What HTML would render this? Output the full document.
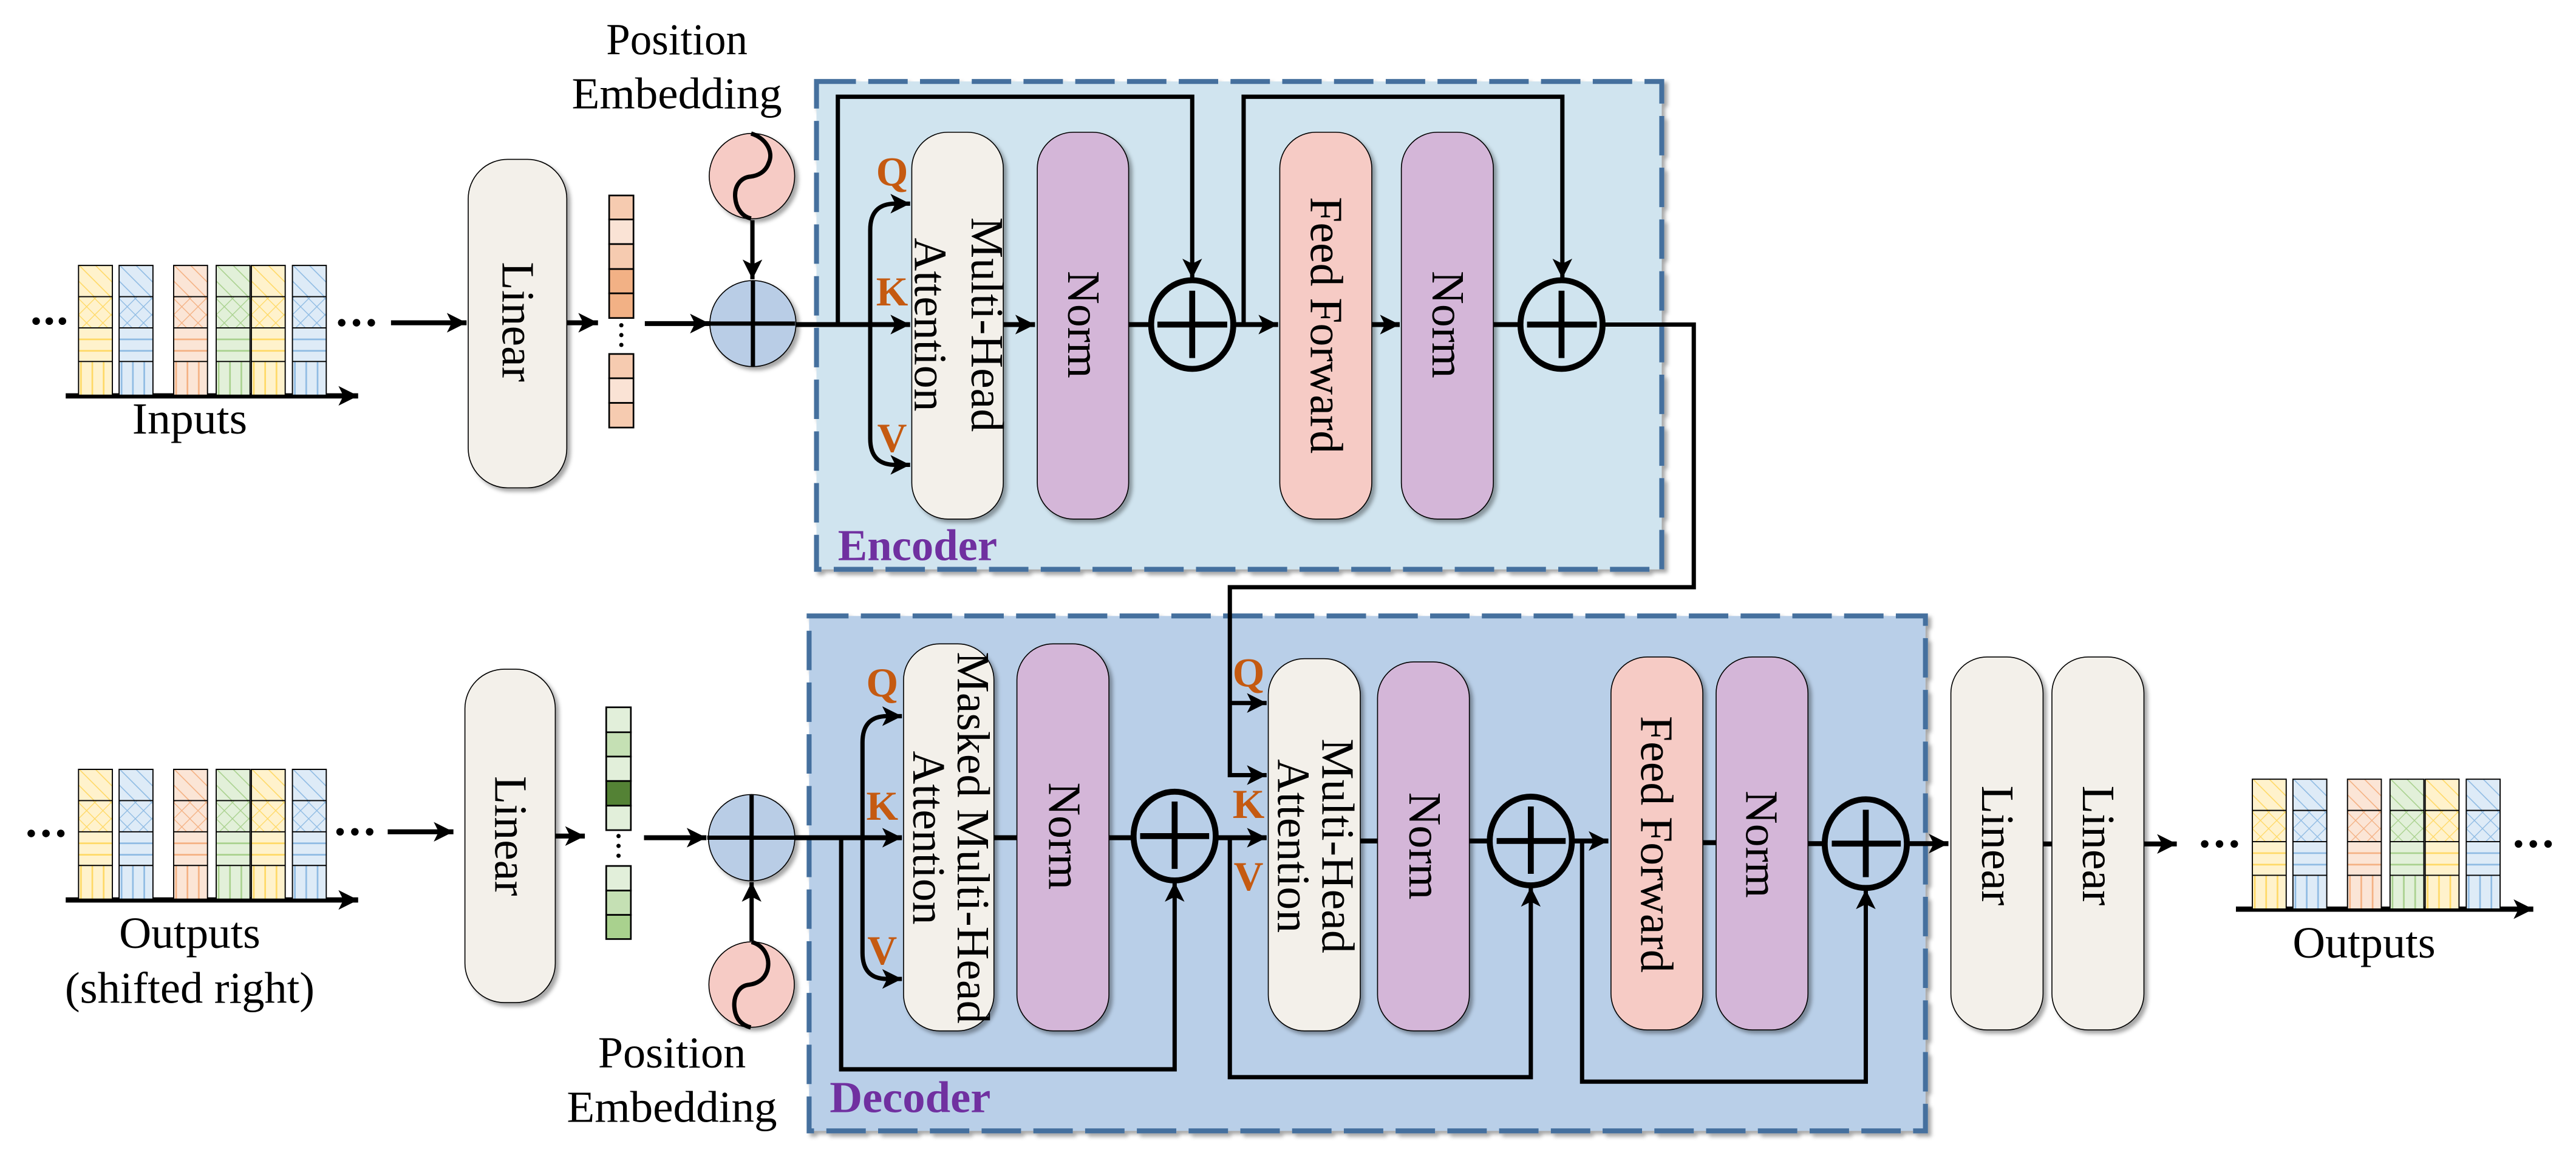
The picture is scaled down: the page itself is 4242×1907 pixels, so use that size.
<!DOCTYPE html>
<html><head><meta charset="utf-8"><style>
html,body{margin:0;padding:0;background:#fff;}
svg{display:block;}
text{font-family:"Liberation Serif","Times New Roman",Times,"DejaVu Serif",serif;}
</style></head><body>
<svg width="4242" height="1907" viewBox="0 0 1568 705" preserveAspectRatio="none" xmlns="http://www.w3.org/2000/svg" font-family="'Liberation Serif', 'Times New Roman', Times, serif">
<defs>
<marker id="ar" markerUnits="userSpaceOnUse" markerWidth="14" markerHeight="14" refX="12" refY="6" orient="auto">
<path d="M0,0 L12,6 L0,12 L3,6 z" fill="#000"/>
</marker>
<filter id="sh" x="-20%" y="-20%" width="150%" height="150%">
<feDropShadow dx="2" dy="2" stdDeviation="1.2" flood-color="#000" flood-opacity="0.35"/>
</filter>
<pattern id="dY" width="7" height="7" patternUnits="userSpaceOnUse" patternTransform="rotate(-45)"><rect width="7" height="7" fill="#fff2cc"/><line x1="0" y1="0" x2="0" y2="7" stroke="#ffd966" stroke-width="1.2"/></pattern>
<pattern id="dB" width="7" height="7" patternUnits="userSpaceOnUse" patternTransform="rotate(-45)"><rect width="7" height="7" fill="#deebf7"/><line x1="0" y1="0" x2="0" y2="7" stroke="#8fbbe3" stroke-width="1.2"/></pattern>
<pattern id="dO" width="7" height="7" patternUnits="userSpaceOnUse" patternTransform="rotate(-45)"><rect width="7" height="7" fill="#fbe5d6"/><line x1="0" y1="0" x2="0" y2="7" stroke="#f4b183" stroke-width="1.2"/></pattern>
<pattern id="dG" width="7" height="7" patternUnits="userSpaceOnUse" patternTransform="rotate(-45)"><rect width="7" height="7" fill="#e2f0d9"/><line x1="0" y1="0" x2="0" y2="7" stroke="#a9d18e" stroke-width="1.2"/></pattern>
<pattern id="cY" width="7" height="7" patternUnits="userSpaceOnUse" patternTransform="rotate(45)"><rect width="7" height="7" fill="#fff2cc"/><path d="M0,0V7M0,0H7" stroke="#ffd966" stroke-width="1"/></pattern>
<pattern id="cB" width="7" height="7" patternUnits="userSpaceOnUse" patternTransform="rotate(45)"><rect width="7" height="7" fill="#deebf7"/><path d="M0,0V7M0,0H7" stroke="#8fbbe3" stroke-width="1"/></pattern>
<pattern id="cO" width="7" height="7" patternUnits="userSpaceOnUse" patternTransform="rotate(45)"><rect width="7" height="7" fill="#fbe5d6"/><path d="M0,0V7M0,0H7" stroke="#f4b183" stroke-width="1"/></pattern>
<pattern id="cG" width="7" height="7" patternUnits="userSpaceOnUse" patternTransform="rotate(45)"><rect width="7" height="7" fill="#e2f0d9"/><path d="M0,0V7M0,0H7" stroke="#a9d18e" stroke-width="1"/></pattern>
<pattern id="vY" width="6.9" height="10" patternUnits="userSpaceOnUse"><rect width="6.9" height="10" fill="#fff2cc"/><line x1="1.5" y1="0" x2="1.5" y2="10" stroke="#ffd966" stroke-width="1"/></pattern>
<pattern id="vB" width="6.9" height="10" patternUnits="userSpaceOnUse"><rect width="6.9" height="10" fill="#deebf7"/><line x1="1.5" y1="0" x2="1.5" y2="10" stroke="#8fbbe3" stroke-width="1"/></pattern>
<pattern id="vO" width="6.9" height="10" patternUnits="userSpaceOnUse"><rect width="6.9" height="10" fill="#fbe5d6"/><line x1="1.5" y1="0" x2="1.5" y2="10" stroke="#f4b183" stroke-width="1"/></pattern>
<pattern id="vG" width="6.9" height="10" patternUnits="userSpaceOnUse"><rect width="6.9" height="10" fill="#e2f0d9"/><line x1="1.5" y1="0" x2="1.5" y2="10" stroke="#a9d18e" stroke-width="1"/></pattern>
<g id="colY"><rect x="0" y="0" width="20.6" height="19" fill="url(#dY)"/><rect x="0" y="19" width="20.6" height="19" fill="url(#cY)"/><rect x="0" y="38" width="20.6" height="20.5" fill="#fff2cc"/><path d="M0,45H20.6M0,52H20.6" stroke="#ffd966" stroke-width="1"/><rect x="0" y="58.5" width="20.6" height="20.5" fill="url(#vY)"/><path d="M0,0H20.6V79H0z M0,19H20.6 M0,38H20.6 M0,58.5H20.6" fill="none" stroke="#000" stroke-width="0.7"/></g>
<g id="colB"><rect x="0" y="0" width="20.6" height="19" fill="url(#dB)"/><rect x="0" y="19" width="20.6" height="19" fill="url(#cB)"/><rect x="0" y="38" width="20.6" height="20.5" fill="#deebf7"/><path d="M0,45H20.6M0,52H20.6" stroke="#8fbbe3" stroke-width="1"/><rect x="0" y="58.5" width="20.6" height="20.5" fill="url(#vB)"/><path d="M0,0H20.6V79H0z M0,19H20.6 M0,38H20.6 M0,58.5H20.6" fill="none" stroke="#000" stroke-width="0.7"/></g>
<g id="colO"><rect x="0" y="0" width="20.6" height="19" fill="url(#dO)"/><rect x="0" y="19" width="20.6" height="19" fill="url(#cO)"/><rect x="0" y="38" width="20.6" height="20.5" fill="#fbe5d6"/><path d="M0,45H20.6M0,52H20.6" stroke="#f4b183" stroke-width="1"/><rect x="0" y="58.5" width="20.6" height="20.5" fill="url(#vO)"/><path d="M0,0H20.6V79H0z M0,19H20.6 M0,38H20.6 M0,58.5H20.6" fill="none" stroke="#000" stroke-width="0.7"/></g>
<g id="colG"><rect x="0" y="0" width="20.6" height="19" fill="url(#dG)"/><rect x="0" y="19" width="20.6" height="19" fill="url(#cG)"/><rect x="0" y="38" width="20.6" height="20.5" fill="#e2f0d9"/><path d="M0,45H20.6M0,52H20.6" stroke="#a9d18e" stroke-width="1"/><rect x="0" y="58.5" width="20.6" height="20.5" fill="url(#vG)"/><path d="M0,0H20.6V79H0z M0,19H20.6 M0,38H20.6 M0,58.5H20.6" fill="none" stroke="#000" stroke-width="0.7"/></g>
<g id="seq"><use href="#colY" x="0"/><use href="#colB" x="24.7"/><use href="#colO" x="57.9"/><use href="#colG" x="83.8"/><use href="#colY" x="105.2"/><use href="#colB" x="130.2"/></g>
</defs>

<rect x="497" y="49.6" width="514.5" height="297" fill="#d0e4ef" stroke="#44709e" stroke-width="3" stroke-dasharray="24 7.5" filter="url(#sh)"/>
<rect x="492.5" y="375" width="679.5" height="313.5" fill="#b9cfe8" stroke="#44709e" stroke-width="3" stroke-dasharray="24 7.5" filter="url(#sh)"/>

<g fill="none" stroke="#000" stroke-width="2.6" stroke-linejoin="miter">
<line x1="40" y1="241" x2="218" y2="241" stroke-width="3.2" marker-end="url(#ar)"/>
<line x1="238" y1="196.5" x2="284" y2="196.5" stroke-width="3" marker-end="url(#ar)"/>
<line x1="345" y1="196.5" x2="364" y2="196.5" stroke-width="3" marker-end="url(#ar)"/>
<line x1="392.5" y1="197" x2="432" y2="197" stroke-width="3" marker-end="url(#ar)"/>
<line x1="458" y1="134" x2="458" y2="170" stroke-width="2.6" marker-end="url(#ar)"/>
<line x1="484" y1="197.6" x2="554" y2="197.6" stroke-width="3" marker-end="url(#ar)"/>
<path d="M529.7,197.6 V140 Q529.7,124 545,124 H554" marker-end="url(#ar)"/>
<path d="M529.7,197.6 V267 Q529.7,283 545,283 H554" marker-end="url(#ar)"/>
<path d="M510,197.6 V58.9 H725.7 V169.5" marker-end="url(#ar)"/>
<line x1="611" y1="197.6" x2="630" y2="197.6" stroke-width="3" marker-end="url(#ar)"/>
<line x1="687" y1="197.6" x2="700" y2="197.6" stroke-width="3"/>
<line x1="752" y1="197.6" x2="778" y2="197.6" stroke-width="3" marker-end="url(#ar)"/>
<path d="M757,197.6 V58.9 H951 V169.5" marker-end="url(#ar)"/>
<line x1="835" y1="197.6" x2="852" y2="197.6" stroke-width="3" marker-end="url(#ar)"/>
<line x1="909" y1="197.6" x2="924" y2="197.6" stroke-width="3"/>
<path d="M977,197.6 H1031 V357.5 H748.6 V471.9 H771" marker-end="url(#ar)"/>
<path d="M748.6,428 H771" marker-end="url(#ar)"/>

<line x1="40" y1="547.9" x2="218" y2="547.9" stroke-width="3.2" marker-end="url(#ar)"/>
<line x1="236" y1="506.4" x2="276" y2="506.4" stroke-width="3" marker-end="url(#ar)"/>
<line x1="338" y1="509" x2="356" y2="509" stroke-width="3" marker-end="url(#ar)"/>
<line x1="392" y1="510" x2="430" y2="510" stroke-width="3" marker-end="url(#ar)"/>
<line x1="457.5" y1="573" x2="457.5" y2="537" stroke-width="2.6" marker-end="url(#ar)"/>
<line x1="484" y1="510" x2="549" y2="510" stroke-width="3" marker-end="url(#ar)"/>
<path d="M525,510 V452 Q525,436 540,436 H549" marker-end="url(#ar)"/>
<path d="M525,510 V580 Q525,596 540,596 H549" marker-end="url(#ar)"/>
<path d="M512,510 V651 H715 V537" marker-end="url(#ar)"/>
<line x1="605" y1="510" x2="619" y2="510" stroke-width="3"/>
<line x1="675" y1="510" x2="689" y2="510" stroke-width="3"/>
<line x1="741" y1="510" x2="771" y2="510" stroke-width="3" marker-end="url(#ar)"/>
<path d="M748.6,510 V655.8 H931.8 V540" marker-end="url(#ar)"/>
<line x1="828" y1="512" x2="838.5" y2="512" stroke-width="3"/>
<line x1="894" y1="512" x2="906" y2="512" stroke-width="3"/>
<line x1="958" y1="512" x2="979" y2="512" stroke-width="3" marker-end="url(#ar)"/>
<path d="M963,512 V658.5 H1135.7 V541.5" marker-end="url(#ar)"/>
<line x1="1036.5" y1="513" x2="1044.6" y2="513" stroke-width="3"/>
<line x1="1100.5" y1="513.6" x2="1110" y2="513.6" stroke-width="3"/>
<line x1="1162" y1="513.6" x2="1186" y2="513.6" stroke-width="3" marker-end="url(#ar)"/>
<line x1="1243.6" y1="513.8" x2="1249" y2="513.8" stroke-width="3"/>
<line x1="1305" y1="513.8" x2="1325" y2="513.8" stroke-width="3" marker-end="url(#ar)"/>
<line x1="1361" y1="553.5" x2="1542" y2="553.5" stroke-width="3.2" marker-end="url(#ar)"/>
</g>

<use href="#seq" x="47.8" y="161.6"/>
<use href="#seq" x="47.8" y="468.4"/>
<use href="#seq" x="1371" y="474.4"/>

<g fill="#000">
<circle cx="22" cy="195.5" r="2.3"/><circle cx="30" cy="195.5" r="2.3"/><circle cx="38" cy="195.5" r="2.3"/>
<circle cx="208" cy="196.5" r="2.3"/><circle cx="217" cy="196.5" r="2.3"/><circle cx="226" cy="196.5" r="2.3"/>
<circle cx="19" cy="507.4" r="2.3"/><circle cx="28" cy="507.4" r="2.3"/><circle cx="37" cy="507.4" r="2.3"/>
<circle cx="207" cy="506.4" r="2.3"/><circle cx="216" cy="506.4" r="2.3"/><circle cx="225" cy="506.4" r="2.3"/>
<circle cx="1342" cy="513.8" r="2.3"/><circle cx="1351" cy="513.8" r="2.3"/><circle cx="1360" cy="513.8" r="2.3"/>
<circle cx="1533" cy="513.8" r="2.3"/><circle cx="1542" cy="513.8" r="2.3"/><circle cx="1551" cy="513.8" r="2.3"/>
<circle cx="378.2" cy="198" r="1.3"/><circle cx="378.2" cy="204" r="1.3"/><circle cx="378.2" cy="210" r="1.3"/>
<circle cx="376.5" cy="509" r="1.3"/><circle cx="376.5" cy="515" r="1.3"/><circle cx="376.5" cy="521" r="1.3"/>
</g>

<g stroke="#000" stroke-width="1">
<rect x="370.8" y="119" width="14.8" height="14.6" fill="#f6cbb0"/>
<rect x="370.8" y="133.6" width="14.8" height="15" fill="#fae3d5"/>
<rect x="370.8" y="148.6" width="14.8" height="15.2" fill="#f6cbb0"/>
<rect x="370.8" y="163.8" width="14.8" height="14.8" fill="#f2b185"/>
<rect x="370.8" y="178.6" width="14.8" height="15" fill="#f2b185"/>
<rect x="370.8" y="215.5" width="14.8" height="14.8" fill="#f6cbb0"/>
<rect x="370.8" y="230.3" width="14.8" height="15" fill="#fae3d5"/>
<rect x="370.8" y="245.3" width="14.8" height="15" fill="#f6cbb0"/>
<rect x="369" y="430.6" width="15" height="15.2" fill="#e2efda"/>
<rect x="369" y="445.8" width="15" height="14.8" fill="#c5e0b4"/>
<rect x="369" y="460.6" width="15" height="14.9" fill="#e2efda"/>
<rect x="369" y="475.5" width="15" height="15" fill="#548235"/>
<rect x="369" y="490.5" width="15" height="14.9" fill="#e2efda"/>
<rect x="369" y="527.2" width="15" height="15" fill="#e2efda"/>
<rect x="369" y="542.2" width="15" height="14.8" fill="#c5e0b4"/>
<rect x="369" y="557" width="15" height="14.7" fill="#a9d18e"/>
</g>

<g stroke="#000" stroke-width="0.6" filter="url(#sh)">
<rect x="285" y="97" width="60" height="200" rx="24" ry="24" fill="#f3f0ea"/>
<rect x="283" y="407.4" width="55" height="203" rx="24" ry="24" fill="#f3f0ea"/>
<rect x="555" y="80.5" width="55.7" height="235.5" rx="22" ry="22" fill="#f3f0ea"/>
<rect x="631.4" y="80.5" width="55.6" height="235.5" rx="22" ry="22" fill="#d4b6d8"/>
<rect x="779" y="80.5" width="56" height="235.5" rx="22" ry="22" fill="#f6cbc5"/>
<rect x="853" y="80.5" width="56" height="235.5" rx="22" ry="22" fill="#d4b6d8"/>
<rect x="550" y="392" width="55" height="235.6" rx="22" ry="22" fill="#f3f0ea"/>
<rect x="619" y="392" width="56" height="235.6" rx="22" ry="22" fill="#d4b6d8"/>
<rect x="772" y="401" width="56" height="226.6" rx="22" ry="22" fill="#f3f0ea"/>
<rect x="838.5" y="403" width="55.9" height="224.6" rx="22" ry="22" fill="#d4b6d8"/>
<rect x="980.6" y="400" width="55.9" height="227" rx="22" ry="22" fill="#f6cbc5"/>
<rect x="1044.6" y="400" width="55.9" height="227" rx="22" ry="22" fill="#d4b6d8"/>
<rect x="1187.5" y="400" width="56.1" height="227" rx="22" ry="22" fill="#f3f0ea"/>
<rect x="1249" y="400" width="56" height="227" rx="22" ry="22" fill="#f3f0ea"/>
<circle cx="457.7" cy="107.2" r="26" fill="#f6cbc5"/>
<circle cx="458.3" cy="197" r="26.2" fill="#b9cde6"/>
<circle cx="457.5" cy="510" r="26.3" fill="#b9cde6"/>
<circle cx="457.5" cy="599.4" r="26" fill="#f6cbc5"/>
</g>
<g stroke="#000" stroke-width="2.6" fill="none">
<path d="M457.2,81.3 C466,84 471,92 468,99 C466,105 461,107 457,107.5 C451,108 447,113 447.5,120 C448,127 452,132 457.2,133"/>
<path d="M457.5,573.5 C466,576 469,584 467,591 C465,597 460,599 456,599.5 C450,600 446.5,606 447,613 C447.5,620 451,624 457,625.5"/>
<line x1="432" y1="197" x2="484" y2="197"/><line x1="458.3" y1="171" x2="458.3" y2="223"/>
<line x1="430.5" y1="510" x2="484" y2="510"/><line x1="457.5" y1="484" x2="457.5" y2="536"/>
</g>

<g stroke="#000" stroke-width="3.6" fill="none">
<ellipse cx="725.7" cy="197.6" rx="25" ry="27"/><path d="M704.5,197.6H747 M725.7,177V218"/>
<ellipse cx="950.5" cy="197.6" rx="25" ry="27"/><path d="M929.5,197.6H972 M950.5,177V218"/>
<ellipse cx="715" cy="509" rx="25" ry="27"/><path d="M694,509H736 M715,488V529"/>
<ellipse cx="931.8" cy="512" rx="25" ry="27"/><path d="M911,512H953 M931.8,491V532"/>
<ellipse cx="1135.7" cy="513.6" rx="25" ry="27"/><path d="M1115,513.6H1157 M1135.7,493V534"/>
</g>

<g font-size="27" fill="#000" text-anchor="middle">
<text x="412" y="33" textLength="86" lengthAdjust="spacingAndGlyphs">Position</text>
<text x="412" y="66" textLength="128" lengthAdjust="spacingAndGlyphs">Embedding</text>
<text x="115.5" y="264" textLength="70" lengthAdjust="spacingAndGlyphs">Inputs</text>
<text x="115.5" y="577" textLength="86" lengthAdjust="spacingAndGlyphs">Outputs</text>
<text x="115.5" y="610.5" textLength="152" lengthAdjust="spacingAndGlyphs">(shifted right)</text>
<text x="409" y="650" textLength="90" lengthAdjust="spacingAndGlyphs">Position</text>
<text x="409" y="683" textLength="128" lengthAdjust="spacingAndGlyphs">Embedding</text>
<text x="1439" y="583" textLength="87" lengthAdjust="spacingAndGlyphs">Outputs</text>
</g>
<g font-size="28" fill="#000" text-anchor="middle" dominant-baseline="central">
<text transform="translate(315,196) rotate(90)">Linear</text>
<text transform="translate(310.5,509) rotate(90)">Linear</text>
<text transform="translate(600.5,197.6) rotate(90)">Multi-Head</text>
<text transform="translate(566,197.6) rotate(90)">Attention</text>
<text transform="translate(659.2,197.6) rotate(90)">Norm</text>
<text transform="translate(807,198) rotate(90)">Feed Forward</text>
<text transform="translate(881,197.6) rotate(90)">Norm</text>
<text transform="translate(592,510) rotate(90)">Masked Multi-Head</text>
<text transform="translate(565,510) rotate(90)">Attention</text>
<text transform="translate(647.6,509) rotate(90)">Norm</text>
<text transform="translate(814,515) rotate(90)">Multi-Head</text>
<text transform="translate(787,515) rotate(90)">Attention</text>
<text transform="translate(867,515) rotate(90)">Norm</text>
<text transform="translate(1008,514) rotate(90)">Feed Forward</text>
<text transform="translate(1072,514) rotate(90)">Norm</text>
<text transform="translate(1215.5,514.8) rotate(90)">Linear</text>
<text transform="translate(1277,514.8) rotate(90)">Linear</text>
</g>
<g font-size="25" font-weight="bold" fill="#c55a11" text-anchor="middle">
<text x="543" y="113">Q</text><text x="543" y="186">K</text><text x="543" y="275">V</text>
<text x="537" y="424">Q</text><text x="537" y="499">K</text><text x="537" y="587">V</text>
<text x="760" y="418">Q</text><text x="760" y="498">K</text><text x="760" y="542">V</text>
</g>
<g font-size="27" font-weight="bold" fill="#7030a0">
<text x="510" y="341" textLength="97" lengthAdjust="spacingAndGlyphs">Encoder</text>
<text x="505" y="677" textLength="98" lengthAdjust="spacingAndGlyphs">Decoder</text>
</g>
</svg>
</body></html>
